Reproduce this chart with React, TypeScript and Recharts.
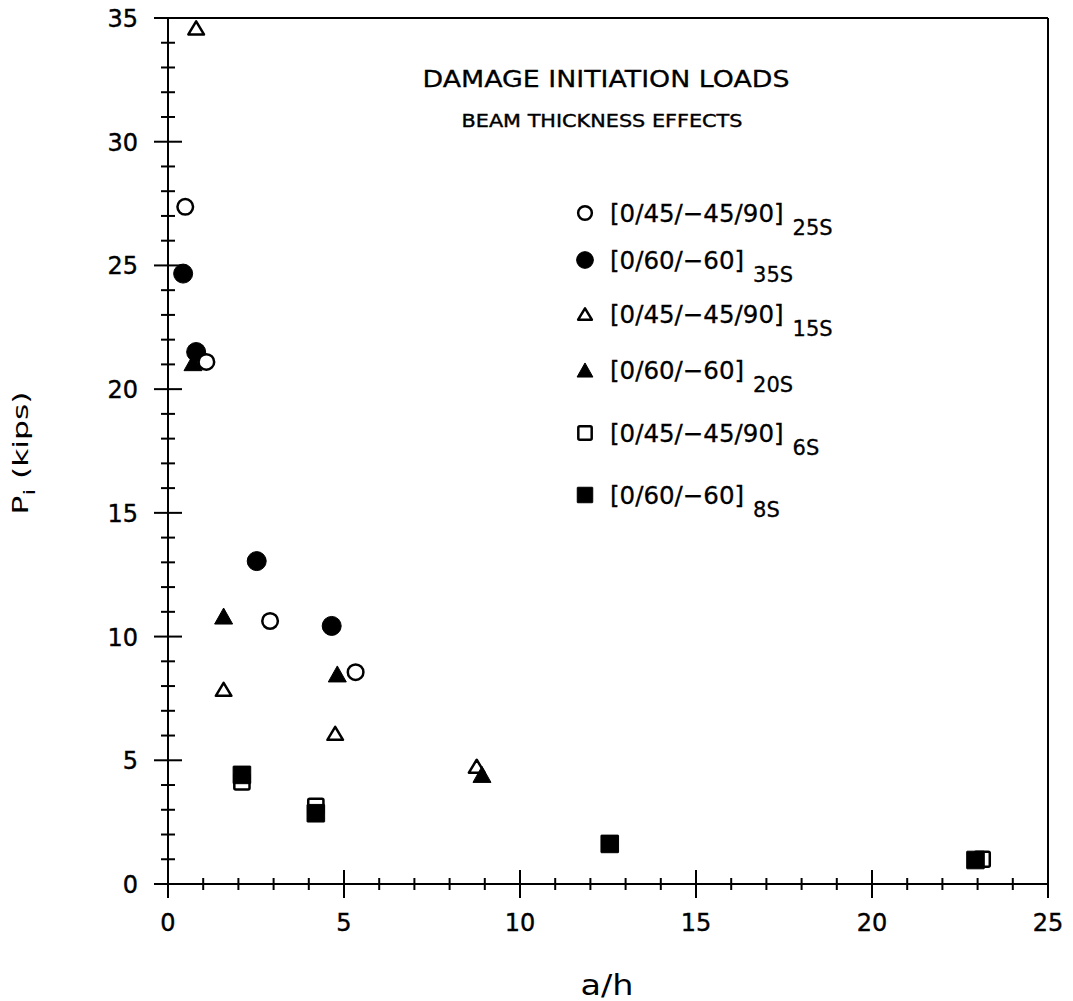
import React from "react";
import {
  Legend,
  ReferenceLine,
  Scatter,
  ScatterChart,
  XAxis,
  YAxis,
} from "recharts";

const FONT = '"DejaVu Sans", "Liberation Sans", sans-serif';

// a/h y P_i (kips)
const OPEN_CIRCLE_X = [0.49, 1.09, 2.9, 5.33];
const OPEN_CIRCLE_Y = [27.37, 21.1, 10.63, 8.56];
const FILLED_CIRCLE_X = [0.43, 0.8, 2.52, 4.65];
const FILLED_CIRCLE_Y = [24.67, 21.5, 13.05, 10.43];
const OPEN_TRI_X = [0.8, 1.58, 4.75, 8.77];
const OPEN_TRI_Y = [34.6, 7.87, 6.09, 4.76];
const FILLED_TRI_X = [0.71, 1.58, 4.81, 8.92];
const FILLED_TRI_Y = [21.07, 10.83, 8.49, 4.43];
const OPEN_SQ_X = [2.1, 4.2, 23.13];
const OPEN_SQ_Y = [4.13, 3.14, 1.0];
const FILLED_SQ_X = [2.1, 4.2, 12.55, 22.94];
const FILLED_SQ_Y = [4.41, 2.86, 1.62, 0.97];

const X_TICKS = [
  0, 1, 2, 3, 4, 5, 6, 7, 8, 9, 10, 11, 12, 13, 14, 15, 16, 17, 18, 19, 20,
  21, 22, 23, 24, 25,
];
const Y_TICKS = [
  0, 1, 2, 3, 4, 5, 6, 7, 8, 9, 10, 11, 12, 13, 14, 15, 16, 17, 18, 19, 20,
  21, 22, 23, 24, 25, 26, 27, 28, 29, 30, 31, 32, 33, 34, 35,
];

const LEGEND_KINDS = ["oc", "fc", "ot", "ft", "os", "fs"];
const LEGEND_LABELS = [
  "[0/45/−45/90]",
  "[0/60/−60]",
  "[0/45/−45/90]",
  "[0/60/−60]",
  "[0/45/−45/90]",
  "[0/60/−60]",
];
const LEGEND_SUBS = ["25S", "35S", "15S", "20S", "6S", "8S"];

const pts = (xs: number[], ys: number[]) => xs.map((x, i) => ({ x, y: ys[i] }));

function Marker({ kind, cx, cy, k = 1 }: { kind: string; cx: number; cy: number; k?: number }) {
  const open = kind[0] === "o";
  const fill = open ? "#fff" : "#000";
  const sw = open ? 2.5 : 1;
  if (kind[1] === "c") {
    return <circle cx={cx} cy={cy} r={(open ? 7.8 : 9.5) * k} fill={fill} stroke="#000" strokeWidth={sw} />;
  }
  if (kind[1] === "t") {
    const w = (open ? 7.8 : 9) * k;
    const h = (open ? 6.5 : 8) * k;
    return (
      <polygon
        points={`${cx},${cy - h} ${cx - w},${cy + h} ${cx + w},${cy + h}`}
        fill={fill}
        stroke="#000"
        strokeWidth={sw}
        strokeLinejoin="round"
      />
    );
  }
  const a = (open ? 7.6 : 8.8) * k;
  return <rect x={cx - a} y={cy - a} width={2 * a} height={2 * a} rx={open ? 1.5 : 0.5} fill={fill} stroke="#000" strokeWidth={sw} />;
}

const shapeOf = (kind: string) => (p: any) => <Marker kind={kind} cx={p.cx} cy={p.cy} />;

function XTick({ x, y, payload }: any) {
  const v = payload.value;
  const major = v % 5 === 0;
  const len = major ? 14 : 6;
  return (
    <g>
      <line x1={x} x2={x} y1={y - len} y2={y + len} stroke="#000" strokeWidth={2} />
      {major && (
        <text x={x} y={y + 47} textAnchor="middle" fontFamily={FONT} fontSize={24} fill="#000" stroke="#000" strokeWidth={0.4}>
          {v}
        </text>
      )}
    </g>
  );
}

function YTick({ x, y, payload }: any) {
  const v = payload.value;
  const major = v % 5 === 0;
  const len = major ? 14 : 7;
  return (
    <g>
      <line x1={x - len} x2={x + len} y1={y} y2={y} stroke="#000" strokeWidth={2} />
      {major && (
        <text x={x - 30} y={y + 9} textAnchor="end" fontFamily={FONT} fontSize={24} fill="#000" stroke="#000" strokeWidth={0.4}>
          {v}
        </text>
      )}
    </g>
  );
}

function XLabel() {
  return (
    <text x={607} y={995} textAnchor="middle" fontFamily={FONT} fontSize={28} fill="#000" textLength={53} lengthAdjust="spacingAndGlyphs">
      a/h
    </text>
  );
}

function YLabel() {
  return (
    <text
      transform="translate(28,453) rotate(-90)"
      textAnchor="middle"
      fontFamily={FONT}
      fontSize={21}
      fill="#000"
      textLength={123}
      lengthAdjust="spacingAndGlyphs"
    >
      P<tspan dy={7} fontSize={16}>i</tspan>
      <tspan dy={-7}> (kips)</tspan>
    </text>
  );
}

const LEGEND_ROWS = [213, 260, 314, 370, 433, 495];

function LegendBox() {
  return (
    <svg width={320} height={370}>
      {LEGEND_KINDS.map((kind, i) => {
        const cy = LEGEND_ROWS[i] - 180;
        return (
          <g key={kind}>
            <Marker kind={kind} cx={25} cy={cy} k={0.88} />
            <text x={50} y={cy + 9} fontFamily={FONT} fontSize={24.5} fill="#000" stroke="#000" strokeWidth={0.3}>
              {LEGEND_LABELS[i]}
              <tspan dx={9} dy={13} fontSize={21}>
                {LEGEND_SUBS[i]}
              </tspan>
            </text>
          </g>
        );
      })}
    </svg>
  );
}

export default function App() {
  return (
    <div style={{ position: "absolute", left: 0, top: 0, width: 1073, height: 1001, background: "#fff" }}>
      <ScatterChart width={1073} height={1001} margin={{ top: 18, right: 25, bottom: 0, left: 0 }}>
        <XAxis
          type="number"
          dataKey="x"
          domain={[0, 25]}
          ticks={X_TICKS}
          interval={0}
          tick={(p: any) => <XTick {...p} />}
          tickLine={false}
          tickSize={0}
          tickMargin={0}
          axisLine={{ stroke: "#000", strokeWidth: 2 }}
          height={117}
          label={<XLabel />}
        />
        <YAxis
          type="number"
          dataKey="y"
          domain={[0, 35]}
          ticks={Y_TICKS}
          interval={0}
          tick={(p: any) => <YTick {...p} />}
          tickLine={false}
          tickSize={0}
          tickMargin={0}
          axisLine={{ stroke: "#000", strokeWidth: 2 }}
          width={168}
          label={<YLabel />}
        />
        <ReferenceLine y={35} stroke="#000" strokeWidth={2} />
        <ReferenceLine x={25} stroke="#000" strokeWidth={2} />
        <Scatter name="[0/60/-60]35S" data={pts(FILLED_CIRCLE_X, FILLED_CIRCLE_Y)} shape={shapeOf("fc")} isAnimationActive={false} />
        <Scatter name="[0/45/-45/90]15S" data={pts(OPEN_TRI_X, OPEN_TRI_Y)} shape={shapeOf("ot")} isAnimationActive={false} />
        <Scatter name="[0/60/-60]20S" data={pts(FILLED_TRI_X, FILLED_TRI_Y)} shape={shapeOf("ft")} isAnimationActive={false} />
        <Scatter name="[0/45/-45/90]6S" data={pts(OPEN_SQ_X, OPEN_SQ_Y)} shape={shapeOf("os")} isAnimationActive={false} />
        <Scatter name="[0/60/-60]8S" data={pts(FILLED_SQ_X, FILLED_SQ_Y)} shape={shapeOf("fs")} isAnimationActive={false} />
        <Scatter name="[0/45/-45/90]25S" data={pts(OPEN_CIRCLE_X, OPEN_CIRCLE_Y)} shape={shapeOf("oc")} isAnimationActive={false} />
        <Legend
          layout="vertical"
          align="center"
          verticalAlign="middle"
          wrapperStyle={{ position: "absolute", left: 560, top: 180, width: 320, height: 370 }}
          content={() => <LegendBox />}
        />
      </ScatterChart>
      <svg width={1073} height={1001} style={{ position: "absolute", left: 0, top: 0, pointerEvents: "none" }}>
        <text x={606} y={87} textAnchor="middle" fontFamily={FONT} fontSize={23.5} fill="#000" stroke="#000" strokeWidth={0.3} textLength={367} lengthAdjust="spacingAndGlyphs">
          DAMAGE INITIATION LOADS
        </text>
        <text x={602} y={127} textAnchor="middle" fontFamily={FONT} fontSize={18.5} fill="#000" stroke="#000" strokeWidth={0.4} textLength={281} lengthAdjust="spacingAndGlyphs">
          BEAM THICKNESS EFFECTS
        </text>
      </svg>
    </div>
  );
}
